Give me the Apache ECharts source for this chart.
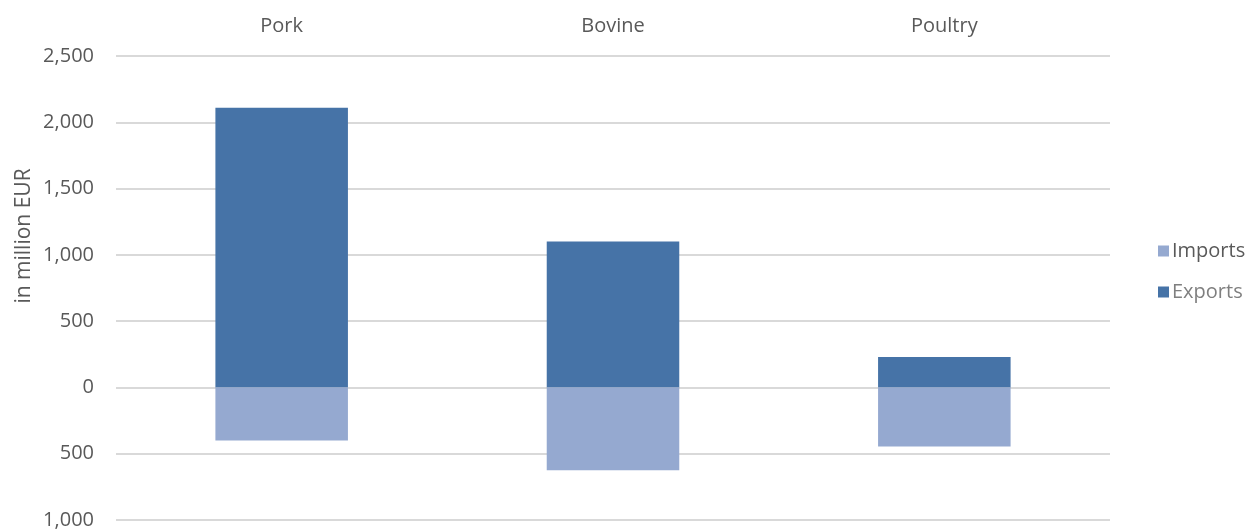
<!DOCTYPE html>
<html><head><meta charset="utf-8">
<script src="https://cdn.jsdelivr.net/npm/echarts@6/dist/echarts.min.js"></script>
<style>html,body{margin:0;padding:0;background:#fff}#c{width:1252px;height:530px}</style>
</head><body><div id="c"></div>
<script>
const categories = ['Pork', 'Bovine', 'Poultry'];
const exportsData = [2110, 1100, 230];
const importsData = [-400, -625, -445];
const yTicks = [-1000, -500, 0, 500, 1000, 1500, 2000, 2500];

const chart = echarts.init(document.getElementById('c'));
const fmt = v => Math.abs(v).toLocaleString('en-US');
chart.setOption({
  animation: false,
  textStyle: { fontFamily: 'Open Sans' },
  grid: { left: 116, right: 142, top: 56, bottom: 9 },
  legend: {
    orient: 'vertical', left: 1153, top: 236, itemWidth: 11, itemHeight: 11, itemGap: 21,
    icon: 'rect',
    data: [
      { name: 'Imports', textStyle: { color: '#595959' } },
      { name: 'Exports', textStyle: { color: '#7f7f7f' } }
    ],
    textStyle: { fontSize: 20, fontFamily: 'Open Sans', padding: [0, 0, 0, -2] }
  },
  graphic: [{
    type: 'text', x: 24, y: 236, rotation: Math.PI / 2,
    style: { text: 'in million EUR', fill: '#595959', fontSize: 21, fontFamily: 'Open Sans',
      align: 'center', verticalAlign: 'middle' }
  }],
  xAxis: {
    type: 'category', data: categories, position: 'top',
    axisLine: { show: false }, axisTick: { show: false },
    axisLabel: { color: '#595959', fontSize: 20, margin: 20 }
  },
  yAxis: {
    type: 'value', min: yTicks[0], max: yTicks[yTicks.length - 1], interval: 500,
    axisLabel: { color: '#595959', fontSize: 20, margin: 22, formatter: fmt },
    splitLine: { lineStyle: { color: '#d9d9d9', width: 2 } }
  },
  series: [
    { name: 'Exports', type: 'bar', stack: 's', data: exportsData, barWidth: '40%',
      itemStyle: { color: '#4673a7' } },
    { name: 'Imports', type: 'bar', stack: 's', data: importsData, barWidth: '40%',
      itemStyle: { color: '#95a9d0' } }
  ]
});
</script></body></html>
